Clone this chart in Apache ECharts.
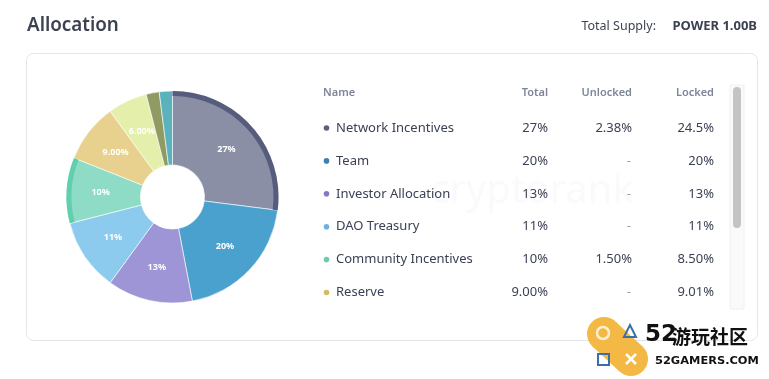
<!DOCTYPE html>
<html>
<head>
<meta charset="utf-8">
<script src="https://cdn.jsdelivr.net/npm/echarts@6/dist/echarts.min.js"></script>
<style>
html,body{margin:0;padding:0;background:#fff;}
#chart{width:769px;height:379px;}
</style>
</head>
<body>
<div id="chart"></div>
<script>
// ---- data ----
const sliceNames = ["Network Incentives","Team","Investor Allocation","DAO Treasury","Community Incentives","Reserve","Ecosystem","Advisors","Liquidity"];
const sliceValues = [27, 20, 13, 11, 10, 9, 6, 2, 2];
const sliceLabels = ["27%","20%","13%","11%","10%","9.00%","6.00%","",""];
const sliceColors = ["#8a8fa6","#4ba1cd","#9d95d5","#8ccbee","#8fdcc6","#e8d18e","#e3efaa","#8f9b63","#5bb2bd"];
const ringColors  = ["#565c7c","transparent","transparent","transparent","#5fcfad","transparent","transparent","transparent","transparent"];

const tableHeaders = ["Name","Total","Unlocked","Locked"];
const rowNames    = ["Network Incentives","Team","Investor Allocation","DAO Treasury","Community Incentives","Reserve"];
const rowTotal    = ["27%","20%","13%","11%","10%","9.00%"];
const rowUnlocked = ["2.38%","-","-","-","1.50%","-"];
const rowLocked   = ["24.5%","20%","13%","11%","8.50%","9.01%"];
const rowDots     = ["#5b6078","#3b80ae","#8878c2","#69b2df","#72c9aa","#d8bb5e"];

const titleText = "Allocation";
const supplyLabel = "Total Supply:";
const supplyValue = "POWER 1.00B";

// ---- chart ----
const chart = echarts.init(document.getElementById('chart'), null, {renderer:'canvas'});
const FONT = '"Noto Sans", "Open Sans", sans-serif';
const textColor = '#3b4154';

const graphics = [];
// card
graphics.push({type:'rect', shape:{x:26.5,y:53.5,width:731,height:287,r:7}, style:{fill:'#fff',stroke:'#e3e5ea',lineWidth:1}, z:0});
// title
graphics.push({type:'text', x:27, y:25, scaleX:0.94, style:{text:titleText, font:'600 20px '+FONT, fill:'#3d4253', textVerticalAlign:'middle'}});
graphics.push({type:'text', x:656, y:26, style:{text:supplyLabel, font:'12.5px '+FONT, fill:'#3d4253', textAlign:'right', textVerticalAlign:'middle'}});
graphics.push({type:'text', x:757, y:26, style:{text:supplyValue, font:'bold 13px '+FONT, fill:'#3d4253', textAlign:'right', textVerticalAlign:'middle'}});
// watermark
graphics.push({type:'text', x:532, y:192, style:{text:'cryptorank', font:'40px '+FONT, fill:'rgba(225,230,240,0.18)', textAlign:'center', textVerticalAlign:'middle'}, z:1});

// table
const colX = [323, 548, 632, 714];
const headerY = 93;
tableHeaders.forEach((h,i)=>{
  graphics.push({type:'text', x:colX[i], y:headerY, style:{text:h, font:'600 11px '+FONT, fill:'#7d8699', textAlign:i===0?'left':'right', textVerticalAlign:'middle'}, z:5});
});
const rowY0 = 128, rowStep = 32.9;
rowNames.forEach((n,r)=>{
  const y = rowY0 + r*rowStep;
  graphics.push({type:'circle', shape:{cx:326.5, cy:y, r:2.8}, style:{fill:rowDots[r]}, z:5});
  graphics.push({type:'text', x:336, y:y, style:{text:n, font:'13px '+FONT, fill:textColor, textVerticalAlign:'middle'}, z:5});
  [rowTotal[r], rowUnlocked[r], rowLocked[r]].forEach((v,c)=>{
    const dash = v === '-';
    graphics.push({type:'text', x:colX[c+1] - (dash?1:0), y:y, style:{text:v, font:'13px '+FONT, fill:dash?'#9aa0ad':textColor, textAlign:'right', textVerticalAlign:'middle'}, z:5});
  });
});
// scrollbar
graphics.push({type:'rect', shape:{x:730,y:85,width:14,height:224}, style:{fill:'#fafafa',stroke:'#f0f0f0',lineWidth:1}, z:4});
graphics.push({type:'rect', shape:{x:733,y:87,width:8,height:141,r:4}, style:{fill:'#c4c4c4'}, z:5});

// 52gamers logo
graphics.push({type:'circle', shape:{cx:604, cy:334, r:17}, style:{fill:'#f4b844'}, z:8});
graphics.push({type:'circle', shape:{cx:631, cy:359, r:17}, style:{fill:'#f4b844'}, z:8});
graphics.push({type:'polygon', shape:{points:[[592,346],[616,322],[643,347],[619,371]]}, style:{fill:'#f4b844'}, z:8});
graphics.push({type:'circle', shape:{cx:603, cy:333, r:6}, style:{fill:'#f4b844', stroke:'#fdf0d2', lineWidth:2.5}, z:9});
graphics.push({type:'polygon', shape:{points:[[630,325],[624,337],[636,337]]}, style:{fill:'none', stroke:'#3c6fa8', lineWidth:2}, z:9});
graphics.push({type:'rect', shape:{x:598,y:354,width:11,height:11}, style:{fill:'none', stroke:'#3c6fa8', lineWidth:2}, z:9});
graphics.push({type:'polyline', shape:{points:[[626,354],[636,364]]}, style:{stroke:'#fff', lineWidth:2.5}, z:9});
graphics.push({type:'polyline', shape:{points:[[636,354],[626,364]]}, style:{stroke:'#fff', lineWidth:2.5}, z:9});
graphics.push({type:'text', x:645, y:335, style:{text:'52', font:'bold 23px "DejaVu Sans", sans-serif', fill:'#111', textVerticalAlign:'middle'}, z:9});
graphics.push({type:'text', x:672, y:337, style:{text:'游玩社区', font:'bold 19px "Noto Sans CJK SC", sans-serif', fill:'#111', textVerticalAlign:'middle'}, z:9});
graphics.push({type:'text', x:655, y:361, scaleX:1.14, style:{text:'52GAMERS.COM', font:'bold 10px "DejaVu Sans", sans-serif', fill:'#111', textVerticalAlign:'middle'}, z:9});

const pieData = sliceNames.map((n,i)=>({
  name:n, value:sliceValues[i],
  itemStyle:{color:sliceColors[i]},
  label:{formatter:sliceLabels[i]}
}));
const ringData = sliceNames.map((n,i)=>({name:n, value:sliceValues[i], itemStyle:{color:ringColors[i]}}));

chart.setOption({
  animation:false,
  graphic:graphics,
  series:[
    {
      type:'pie', center:[172.5,197], radius:[32,106], startAngle:90, clockwise:true,
      avoidLabelOverlap:false, silent:true, z:3,
      itemStyle:{borderColor:'#fff', borderWidth:0.6},
      label:{show:true, position:'inside', color:'#fff', fontSize:9, fontWeight:'bold', fontFamily:FONT},
      labelLine:{show:false},
      data:pieData
    },
    {
      type:'pie', center:[172.5,197], radius:[101,106], startAngle:90, clockwise:true,
      silent:true, z:4, label:{show:false}, labelLine:{show:false},
      itemStyle:{borderWidth:0},
      data:ringData
    }
  ]
});
</script>
</body>
</html>
